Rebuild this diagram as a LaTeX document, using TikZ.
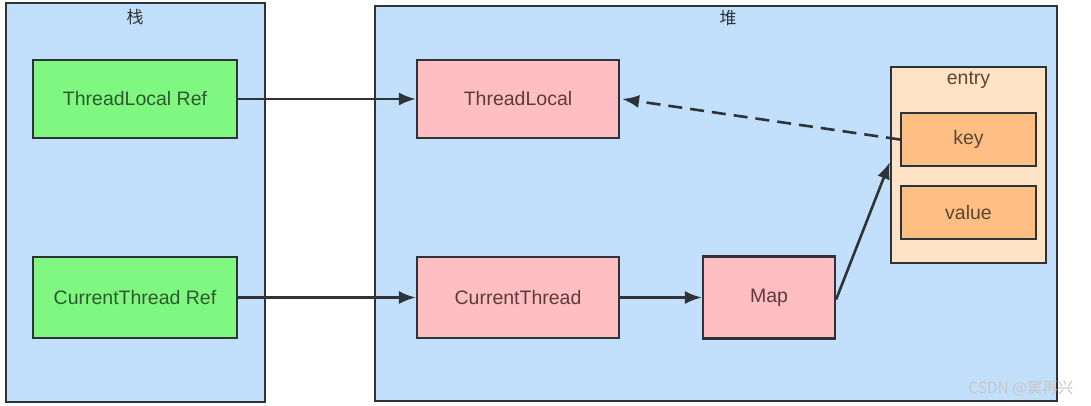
\documentclass[tikz,border=0pt]{standalone}
\usepackage{fontspec}
\setmainfont{Liberation Sans}
\newfontfamily\cjk{Noto Sans CJK SC}
\usetikzlibrary{arrows.meta}
\definecolor{areablue}{HTML}{C2E0FC}
\definecolor{refgreen}{HTML}{80F780}
\definecolor{objpink}{HTML}{FFBFC2}
\definecolor{entrybg}{HTML}{FFE3C6}
\definecolor{keyorange}{HTML}{FFBE84}
\definecolor{edge}{HTML}{2E3338}
\definecolor{greentext}{HTML}{2D5A2D}
\definecolor{pinktext}{HTML}{5E3A3C}
\definecolor{orangetext}{HTML}{5E4632}
\tikzset{
  area/.style={draw=edge, line width=2.2pt, fill=areablue},
  refbox/.style={draw=edge, line width=2.2pt, fill=refgreen, text=greentext, font=\fontsize{19.5}{22}\selectfont},
  objbox/.style={draw=edge, line width=2.2pt, fill=objpink, text=pinktext, font=\fontsize{19.5}{22}\selectfont},
  entrybox/.style={draw=edge, line width=2.2pt, fill=entrybg},
  fieldbox/.style={draw=edge, line width=2.2pt, fill=keyorange, text=orangetext, font=\fontsize{19.5}{22}\selectfont},
  link/.style={draw=edge, line width=2.6pt, -{Latex[length=17pt,width=13pt]}},
  lbl/.style={font=\cjk\fontsize{17}{20}\selectfont, text=edge}
}
\begin{document}
\begin{tikzpicture}[x=1pt,y=-1pt]
\useasboundingbox[fill=white] (0,0) rectangle (1091,405);
% areas
\path[area] (6,3) rectangle (265,402);
\node[lbl] (stacklbl) at (135,17) {栈};
\path[area] (375,6) rectangle (1057,401);
\node[lbl] (heaplbl) at (728,18) {堆};
% nodes
\node[refbox, minimum width=204pt, minimum height=78pt] (tlref) at (135,99) {ThreadLocal Ref};
\node[refbox, minimum width=204pt, minimum height=81pt] (ctref) at (135,297.5) {CurrentThread Ref};
\node[objbox, minimum width=202pt, minimum height=78pt] (tl) at (518,99) {ThreadLocal};
\node[objbox, minimum width=202pt, minimum height=81pt] (ct) at (518,297.5) {CurrentThread};
\node[objbox, minimum width=132pt, minimum height=82pt] (map) at (769,297.5) {Map};
\node[entrybox, minimum width=155pt, minimum height=196pt] (entry) at (968.5,165) {};
\node[font=\fontsize{19.5}{22}\selectfont, text=orangetext] (entrylbl) at (968.5,80) {entry};
\node[fieldbox, minimum width=135pt, minimum height=53pt] (key) at (968.5,139.5) {key};
\node[fieldbox, minimum width=135pt, minimum height=53pt] (value) at (968.5,212.5) {value};
% connectors
\draw[link] (tlref.east) -- (tl.west);
\draw[link] (ctref.east) -- (ct.west);
\draw[link] (ct.east) -- (map.west);
\coordinate (mapout) at ([yshift=-2pt]map.east);
\coordinate (entryin) at ([yshift=3pt]entry.west);
\draw[link] (mapout) -- (entryin);
\draw[link, dash pattern=on 14pt off 8pt] (key.west) -- ([xshift=2pt]tl.east);
% watermark
\node[font=\cjk\fontsize{15.5}{18}\selectfont, text=white!55!gray, anchor=east] (wm) at (1077,388) {CSDN @窦再兴};
\end{tikzpicture}
\end{document}
